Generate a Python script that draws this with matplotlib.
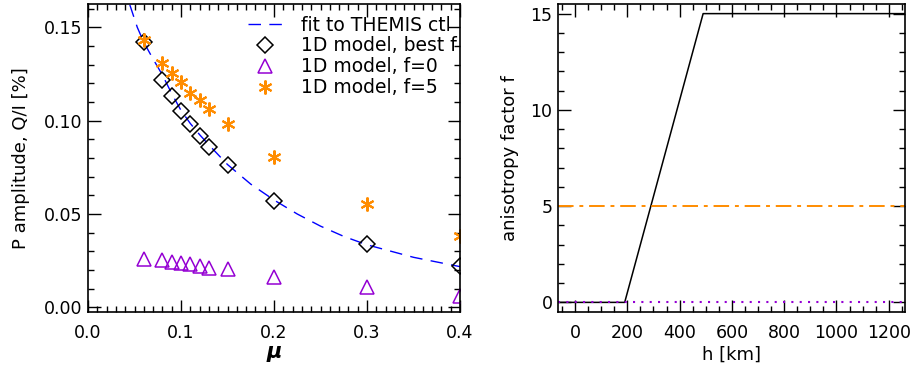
#!/usr/bin/env python
import numpy as np
import matplotlib
matplotlib.use('Agg')
import matplotlib.pyplot as plt
from matplotlib.ticker import MultipleLocator

# left panel: polarisation amplitude vs mu
mu = [0.06, 0.08, 0.09, 0.10, 0.11, 0.12, 0.13, 0.15, 0.20, 0.30, 0.40]
amp_best = [0.142, 0.122, 0.113, 0.105, 0.098, 0.092, 0.086, 0.076, 0.057, 0.034, 0.022]
amp_f0 = [0.026, 0.0255, 0.0245, 0.024, 0.023, 0.022, 0.021, 0.0205, 0.0163, 0.011, 0.006]
amp_f5 = [0.143, 0.131, 0.1258, 0.1205, 0.115, 0.111, 0.1063, 0.098, 0.0805, 0.0553, 0.0384]

# fit to THEMIS ctl
fit_mu = [0.045, 0.053, 0.06, 0.07, 0.08, 0.09, 0.10, 0.11, 0.12, 0.13, 0.15,
          0.175, 0.20, 0.225, 0.25, 0.275, 0.30, 0.35, 0.40]
fit_amp = [0.162, 0.150, 0.142, 0.133, 0.1245, 0.1145, 0.1055, 0.0985, 0.0925, 0.087, 0.0765,
           0.066, 0.0575, 0.050, 0.0435, 0.038, 0.0335, 0.0268, 0.0218]

# right panel: anisotropy factor vs height
h_best = [-65, 190, 490, 1262]
f_best = [0, 0, 15, 15]
h_const = [-65, 1262]
f5 = [5, 5]
f0 = [0, 0]

orange = '#FF8C00'
purple = '#9400D3'
fs = 12.5

fig = plt.figure(figsize=(9.13, 3.73), dpi=100)
ax1 = fig.add_axes([88/913, 1-312/373, 372/913, 308/373])
ax2 = fig.add_axes([558/913, 1-312/373, 347/913, 308/373])

for ax in (ax1, ax2):
    ax.tick_params(which='both', direction='in', top=True, right=True,
                   labelsize=fs, width=1)
    ax.tick_params(which='major', length=9)
    ax.tick_params(which='minor', length=4.5)
    ax.tick_params(axis='x', pad=9)
    ax.tick_params(axis='y', pad=4)
    for s in ax.spines.values():
        s.set_linewidth(1.2)

ax1.plot(fit_mu, fit_amp, color='blue', lw=1, ls=(0, (9, 6)),
         label='fit to THEMIS ctl')
ax1.plot(mu, amp_best, ls='none', marker='D', ms=8.5, mfc='none', mec='black',
         mew=1.1, label='1D model, best f')
ax1.plot(mu, amp_f0, ls='none', marker='^', ms=9.5, mfc='none', mec=purple,
         mew=1.1, label='1D model, f=0')
ax1.plot(mu, amp_f5, ls='none', marker=(6, 2, 0), ms=10, mec=orange,
         mew=1.5, label='1D model, f=5')
ax1.set_xlim(0.0, 0.4)
ax1.set_ylim(-0.0025, 0.1625)
ax1.xaxis.set_major_locator(MultipleLocator(0.1))
ax1.xaxis.set_minor_locator(MultipleLocator(0.01))
ax1.yaxis.set_major_locator(MultipleLocator(0.05))
ax1.yaxis.set_minor_locator(MultipleLocator(0.01))
ax1.xaxis.set_major_formatter(plt.FormatStrFormatter('%.1f'))
ax1.yaxis.set_major_formatter(plt.FormatStrFormatter('%.2f'))
ax1.set_xlabel('μ', fontsize=15, fontweight='bold', fontstyle='italic', labelpad=0)
ax1.set_ylabel('P amplitude, Q/I [%]', fontsize=13, labelpad=10)

leg = ax1.legend(loc='upper left', bbox_to_anchor=(0.43, 0.9625), frameon=False,
                 fontsize=13.5, handlelength=1.87, handletextpad=0.95,
                 labelspacing=0.1, borderpad=0, borderaxespad=0)
for t in leg.get_texts():
    t.set_clip_box(ax1.bbox)
    t.set_clip_on(True)

ax2.plot(h_best, f_best, color='black', lw=1.1)
ax2.plot(h_const, f5, color=orange, lw=1.4, ls=(0, (8, 3, 2, 3)))
ax2.plot(h_const, f0, color=purple, lw=1.5, ls=(0, (1, 3)))
ax2.set_xlim(-65, 1262)
ax2.set_ylim(-0.5, 15.5)
ax2.xaxis.set_major_locator(MultipleLocator(200))
ax2.xaxis.set_minor_locator(MultipleLocator(50))
ax2.yaxis.set_major_locator(MultipleLocator(5))
ax2.yaxis.set_minor_locator(MultipleLocator(1))
ax2.set_xlabel('h [km]', fontsize=13, labelpad=2)
ax2.set_ylabel('anisotropy factor f', fontsize=13, labelpad=8)

fig.savefig('out.png', dpi=100)
